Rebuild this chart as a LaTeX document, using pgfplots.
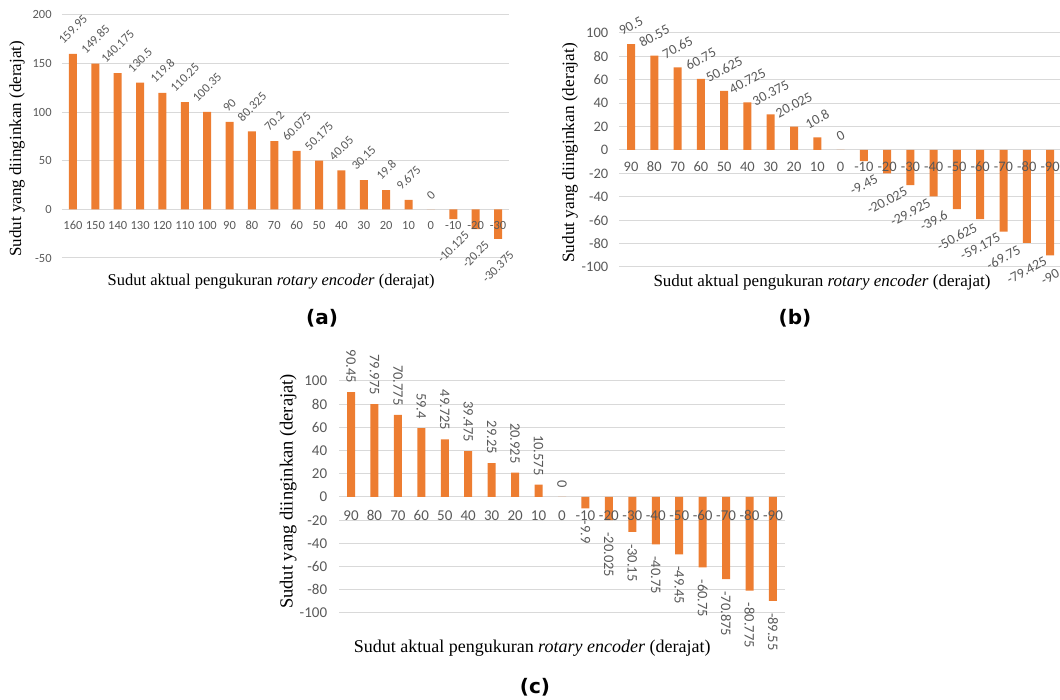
\documentclass[border=0pt]{standalone}
\usepackage{pgfplots}
\pgfplotsset{compat=1.18}
\usepackage{pgfplotstable}
\usepackage{graphicx}
\usepackage{fontspec}
\setmainfont{Liberation Serif}
\newfontfamily\carl{Carlito}
\newfontfamily\verd{DejaVu Sans}
\definecolor{barc}{HTML}{ED7D31}
\definecolor{tickc}{HTML}{595959}
\definecolor{gridc}{HTML}{D9D9D9}

\pgfplotstableread{
x y
0 159.95
1 149.85
2 140.175
3 130.5
4 119.8
5 110.25
6 100.35
7 90
8 80.325
9 70.2
10 60.075
11 50.175
12 40.05
13 30.15
14 19.8
15 9.675
16 0
}\Apos
\pgfplotstableread{
x y
17 -10.125
18 -20.25
19 -30.375
}\Aneg
\pgfplotstableread{
x y
0 90.5
1 80.55
2 70.65
3 60.75
4 50.625
5 40.725
6 30.375
7 20.025
8 10.8
9 0
}\Bpos
\pgfplotstableread{
x y
10 -9.45
11 -20.025
12 -29.925
13 -39.6
14 -50.625
15 -59.175
16 -69.75
17 -79.425
18 -90
}\Bneg
\pgfplotstableread{
x y
0 90.45
1 79.975
2 70.775
3 59.4
4 49.725
5 39.475
6 29.25
7 20.925
8 10.575
9 0
}\Cpos
\pgfplotstableread{
x y
10 -9.9
11 -20.025
12 -30.15
13 -40.75
14 -49.45
15 -60.75
16 -70.875
17 -80.775
18 -89.55
}\Cneg

\pgfplotsset{
  panel/.style={
    set layers,
    scale only axis,
    anchor=south west,
    ybar, bar width=8pt, bar shift=0pt,
    axis x line*=middle,
    axis y line*=left,
    y axis line style={draw=none},
    x axis line style={draw=gridc, line width=1pt},
    major tick length=0pt,
    xtick style={draw=none}, ytick style={draw=none},
    ymajorgrids, grid style={draw=gridc, line width=1pt},
    /pgf/number format/assume math mode=true,
    clip=false,
    yticklabel style={anchor=east, inner sep=0pt, text=tickc},
    xticklabel style={/pgfplots/on layer=axis foreground, anchor=base, inner sep=0pt, text=tickc},
    xlabel style={anchor=center},
    ylabel style={anchor=center, rotate=0},
  },
  posbar/.style={draw=none, fill=barc},
}

\begin{document}
\begin{tikzpicture}[trim left=0pt, trim right=1060pt]
\path (0,0) rectangle (1060pt,700pt);

% ---------------- (a)
\begin{axis}[panel,
  at={(61.8pt,442pt)}, width=447.4pt, height=243pt,
  xmin=-0.5, xmax=19.5, ymin=-50, ymax=200,
  ytick={-50,0,50,100,150,200},
  xtick={0,...,19},
  xticklabels={160,150,140,130,120,110,100,90,80,70,60,50,40,30,20,10,0,-10,-20,-30},
  yticklabel style={font=\carl\fontsize{12.5}{14}\selectfont, xshift=-10pt},
  xticklabel style={font=\carl\fontsize{12.5}{14}\selectfont, yshift=-20pt},
  xlabel={Sudut aktual pengukuran \textit{rotary encoder} (derajat)},
  ylabel={Sudut yang diinginkan (derajat)},
  xlabel style={at={(axis description cs:0.468,-0.099)}, font=\fontsize{16.5}{18}\selectfont},
  ylabel style={at={(axis description cs:-0.100,0.449)}, font=\fontsize{17}{19}\selectfont},
]
\addplot[posbar, nodes near coords={\rotatebox{45}{\pgfmathprintnumber[precision=3]{\pgfplotspointmeta}}},
  every node near coord/.append style={anchor=south, inner sep=0pt, yshift=9pt, text=tickc, font=\carl\fontsize{12.5}{14}\selectfont}]
  table[x=x,y=y] {\Apos};
\addplot[posbar, nodes near coords={\rotatebox{45}{\pgfmathprintnumber[precision=3]{\pgfplotspointmeta}}},
  every node near coord/.append style={anchor=north, inner sep=0pt, yshift=-11pt, text=tickc, font=\carl\fontsize{12.5}{14}\selectfont}]
  table[x=x,y=y] {\Aneg};
\end{axis}

% ---------------- (b)
\begin{axis}[panel,
  at={(619.4pt,433pt)}, width=442.3pt, height=234pt,
  xmin=-0.5, xmax=18.5, ymin=-100, ymax=100,
  ytick={-100,-80,...,100},
  xtick={0,...,18},
  xticklabels={90,80,70,60,50,40,30,20,10,0,-10,-20,-30,-40,-50,-60,-70,-80,-90},
  yticklabel style={font=\carl\fontsize{14.5}{16}\selectfont, xshift=-11pt},
  xticklabel style={font=\carl\fontsize{14.5}{16}\selectfont, yshift=-21.6pt},
  xlabel={Sudut aktual pengukuran \textit{rotary encoder} (derajat)},
  ylabel={Sudut yang diinginkan (derajat)},
  xlabel style={at={(axis description cs:0.458,-0.064)}, font=\fontsize{17}{19}\selectfont},
  ylabel style={at={(axis description cs:-0.112,0.487)}, font=\fontsize{17.3}{19}\selectfont},
]
\addplot[posbar, nodes near coords={\rotatebox{28}{\pgfmathprintnumber[precision=3]{\pgfplotspointmeta}}},
  every node near coord/.append style={anchor=south, inner sep=0pt, yshift=8pt, text=tickc, font=\carl\fontsize{14}{16}\selectfont}]
  table[x=x,y=y] {\Bpos};
\addplot[posbar, nodes near coords={\rotatebox{28}{\pgfmathprintnumber[precision=3]{\pgfplotspointmeta}}},
  every node near coord/.append style={anchor=north, inner sep=0pt, yshift=-13pt, text=tickc, font=\carl\fontsize{14}{16}\selectfont}]
  table[x=x,y=y] {\Bneg};
\end{axis}

% ---------------- (c)
\begin{axis}[panel,
  at={(339.3pt,87pt)}, width=445.4pt, height=232pt,
  xmin=-0.5, xmax=18.5, ymin=-100, ymax=100,
  ytick={-100,-80,...,100},
  xtick={0,...,18},
  xticklabels={90,80,70,60,50,40,30,20,10,0,-10,-20,-30,-40,-50,-60,-70,-80,-90},
  yticklabel style={font=\carl\fontsize{15}{17}\selectfont, xshift=-12pt},
  xticklabel style={font=\carl\fontsize{15}{17}\selectfont, yshift=-23.8pt},
  xlabel={Sudut aktual pengukuran \textit{rotary encoder} (derajat)},
  ylabel={Sudut yang diinginkan (derajat)},
  xlabel style={at={(axis description cs:0.433,-0.151)}, font=\fontsize{18}{20}\selectfont},
  ylabel style={at={(axis description cs:-0.115,0.524)}, font=\fontsize{18.5}{20}\selectfont},
]
\addplot[posbar, nodes near coords={\rotatebox{-90}{\pgfmathprintnumber[precision=3]{\pgfplotspointmeta}}},
  every node near coord/.append style={anchor=south, inner sep=0pt, yshift=9pt, text=tickc, font=\carl\fontsize{14.5}{16}\selectfont}]
  table[x=x,y=y] {\Cpos};
\addplot[posbar, nodes near coords={\rotatebox{-90}{\pgfmathprintnumber[precision=3]{\pgfplotspointmeta}}},
  every node near coord/.append style={anchor=north, inner sep=0pt, yshift=-12pt, text=tickc, font=\carl\fontsize{14.5}{16}\selectfont}]
  table[x=x,y=y] {\Cneg};
\end{axis}

\node[font=\verd\bfseries\fontsize{20}{22}\selectfont] at (322pt,382pt) {(a)};
\node[font=\verd\bfseries\fontsize{20}{22}\selectfont] at (795pt,382pt) {(b)};
\node[font=\verd\bfseries\fontsize{20}{22}\selectfont] at (535pt,13pt) {(c)};
\end{tikzpicture}
\end{document}
